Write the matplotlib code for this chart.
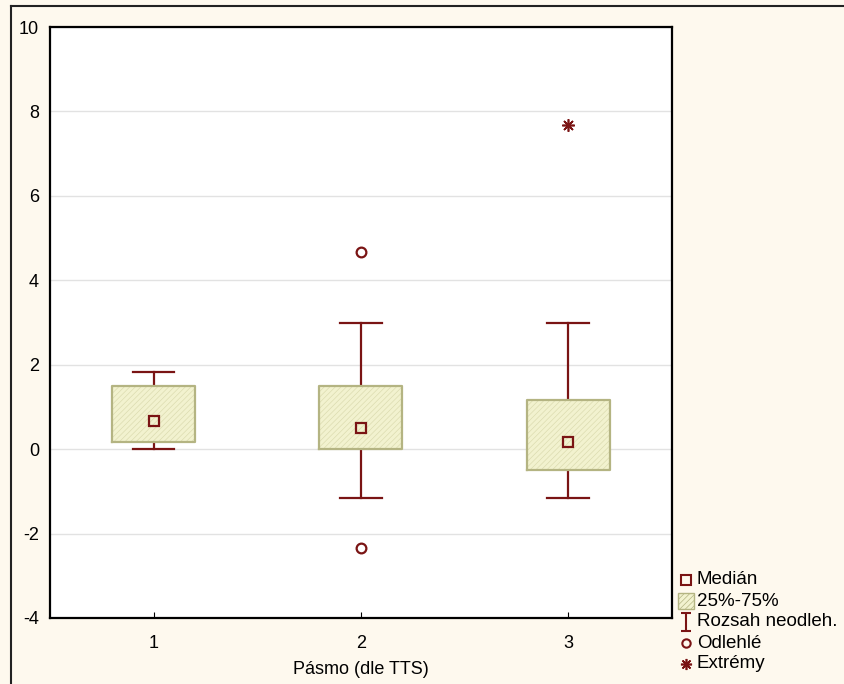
import numpy as np
import matplotlib
matplotlib.use('Agg')
import matplotlib.pyplot as plt
from matplotlib.lines import Line2D
from matplotlib.patches import Rectangle
from matplotlib.path import Path

# data: boxplot summaries per band
positions = [1, 2, 3]
medians = [0.667, 0.5, 0.167]
q1 = [0.167, 0.0, -0.5]
q3 = [1.5, 1.5, 1.167]
whis_lo = [0.0, -1.167, -1.167]
whis_hi = [1.833, 3.0, 3.0]
outlier_x = [2, 2]
outlier_y = [4.667, -2.333]
extreme_x = [3]
extreme_y = [7.667]
xticklabels = ['1', '2', '3']
legend_labels = ['Medián', '25%-75%', 'Rozsah neodleh.', 'Odlehlé', 'Extrémy']

dark_red = '#7a1414'
box_face = '#f2f2cf'
box_edge = '#b4b482'
bg = '#fef9ee'

plt.rcParams['font.family'] = ['Liberation Sans', 'DejaVu Sans']
plt.rcParams['hatch.linewidth'] = 0.5
plt.rcParams['axes.unicode_minus'] = False

fig = plt.figure(figsize=(8.45, 6.84), dpi=100, facecolor=bg)
ax = fig.add_axes([0.0592, 0.0965, 0.7358, 0.864])
ax.set_facecolor('white')

stats = []
for i in range(len(positions)):
    stats.append(dict(med=medians[i], q1=q1[i], q3=q3[i],
                      whislo=whis_lo[i], whishi=whis_hi[i], fliers=[]))

ax.grid(axis='y', color='#e2e2e2', lw=1)
ax.set_axisbelow(True)

# hatched boxes
for i, p in enumerate(positions):
    ax.add_patch(Rectangle((p - 0.2, q1[i]), 0.4, q3[i] - q1[i],
                           facecolor=box_face, edgecolor='#dcdcb0', hatch='//////',
                           lw=0, zorder=2))
bp = ax.bxp(stats, positions=positions, widths=0.4, showfliers=False,
            boxprops=dict(color=box_edge, lw=1.6),
            whiskerprops=dict(color=dark_red, lw=1.6),
            capprops=dict(color=dark_red, lw=1.6),
            medianprops=dict(lw=0), capwidths=0.2, zorder=3)
for w in bp['whiskers']:
    w.set_zorder(1.5)

ax.plot(positions, medians, 's', ms=7, mfc='none', mec=dark_red, mew=1.6, zorder=4)
ax.plot(outlier_x, outlier_y, 'o', ms=7, mfc='white', mec=dark_red, mew=1.6, zorder=4)
ax.plot(extreme_x, extreme_y, marker=(8, 2, 0), ls='none', ms=9,
        mec=dark_red, mew=1.2, zorder=4)

ax.set_xlim(0.5, 3.5)
ax.set_ylim(-4, 10)
ax.set_yticks(np.arange(-4, 11, 2))
ax.set_xticks(positions)
ax.set_xticklabels(xticklabels)
ax.tick_params(axis='x', direction='in', length=4, pad=12, labelsize=13)
ax.tick_params(axis='y', length=0, pad=8, labelsize=13)
for s in ax.spines.values():
    s.set_linewidth(1.6)
ax.set_xlabel('Pásmo (dle TTS)', fontsize=13, labelpad=7)

# frame lines at top and left of the figure
fig.add_artist(Line2D([11 / 845, 11 / 845], [0, 1 - 6 / 684],
                      transform=fig.transFigure, color='#222222', lw=1.5))
fig.add_artist(Line2D([11 / 845, 1], [1 - 6 / 684, 1 - 6 / 684],
                      transform=fig.transFigure, color='#222222', lw=1.5))

# legend drawn by hand in figure coordinates
W, H = 845, 684
def fx(x):
    return x / W
def fy(y):
    return 1 - y / H

lx = 686
rows = [580, 601, 622, 643, 664]
tf = fig.transFigure
fig.add_artist(Line2D([fx(lx)], [fy(rows[0])], transform=tf, marker='s', ms=6.5,
                      mfc='none', mec=dark_red, mew=1.5))
fig.add_artist(Rectangle((fx(678), fy(609)), 16 / W, 16 / H, transform=tf,
                         facecolor=box_face, edgecolor=box_edge, hatch='//////', lw=1))
ibar = Path([(-0.5, -1), (0.5, -1), (0, -1), (0, 1), (-0.5, 1), (0.5, 1)],
            [Path.MOVETO, Path.LINETO, Path.MOVETO, Path.LINETO, Path.MOVETO, Path.LINETO])
fig.add_artist(Line2D([fx(lx)], [fy(rows[2])], transform=tf, marker=ibar, ms=13,
                      mfc='none', mec=dark_red, mew=1.5))
fig.add_artist(Line2D([fx(lx)], [fy(rows[3])], transform=tf, marker='o', ms=6,
                      mfc='none', mec=dark_red, mew=1.5))
fig.add_artist(Line2D([fx(lx)], [fy(rows[4])], transform=tf, marker=(8, 2, 0), ms=8,
                      mec=dark_red, mew=1.2))
for lab, y in zip(legend_labels, rows):
    fig.text(fx(697), fy(y), lab, fontsize=13.5, va='center', ha='left')

fig.savefig('out.png', dpi=100, facecolor=bg)
